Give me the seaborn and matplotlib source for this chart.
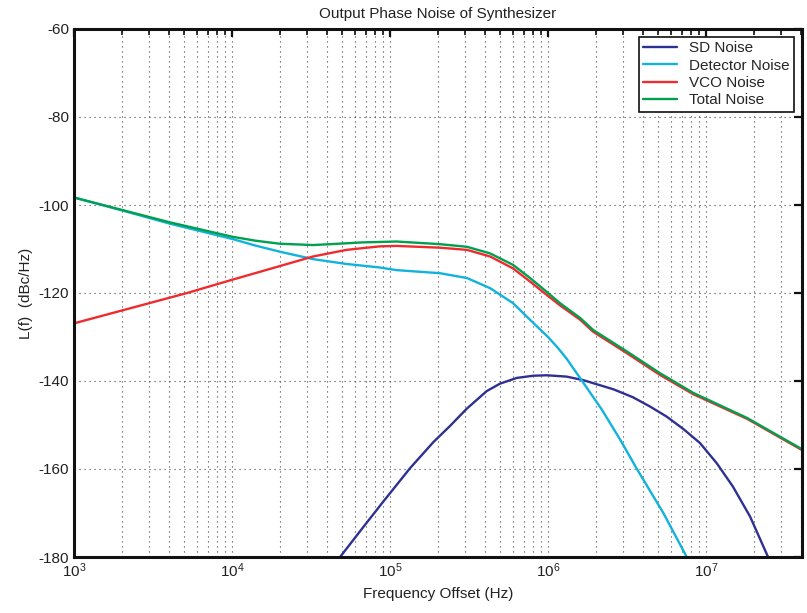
import numpy as np
import pandas as pd
import matplotlib
matplotlib.use("Agg")
import matplotlib.pyplot as plt
import seaborn as sns
from matplotlib.ticker import LogLocator, FixedLocator

# -----------------------------
# DATA
# -----------------------------
sd_freq = [4.83e4, 5.58e4, 7.12e4, 9.07e4, 1.34e5, 1.88e5, 2.4e5, 3.06e5,
           4.09e5, 4.97e5, 6.34e5, 8.07e5, 9.82e5, 1.31e6, 1.67e6, 2.6e6,
           3.45e6, 4.42e6, 5.64e6, 7.18e6, 9.16e6, 1.17e7, 1.48e7, 1.9e7,
           2.47e7]
sd_noise = [-180.0, -177.1, -172.2, -167.4, -159.8, -153.9, -150.2, -146.3,
            -142.3, -140.6, -139.3, -138.8, -138.7, -139.0, -139.8, -141.9,
            -143.7, -145.8, -148.1, -150.9, -154.1, -158.7, -164.0, -170.8,
            -180.0]

det_freq = [1e3, 2e3, 4e3, 1e4, 1.4e4, 2e4, 3.26e4, 5.3e4, 8.6e4, 1.1e5,
            2.07e5, 3.07e5, 4.3e5, 6.0e5, 7.7e5, 1.0e6, 1.15e6, 1.31e6,
            1.63e6, 2.2e6, 2.87e6, 3.64e6, 5.37e6, 7.55e6]
det_noise = [-98.3, -101.2, -104.2, -107.7, -109.2, -110.6, -112.3, -113.4,
             -114.2, -114.8, -115.5, -116.6, -118.9, -122.3, -126.1, -130.0,
             -132.4, -134.9, -139.8, -146.6, -153.4, -159.9, -170.0, -180.0]

vco_freq = [1e3, 5.2e3, 1e4, 1.4e4, 2e4, 3.26e4, 5.3e4, 8.6e4, 1.1e5, 2.07e5,
            3.07e5, 4.3e5, 6.0e5, 7.7e5, 9.86e5, 1.19e6, 1.6e6, 1.93e6,
            3.16e6, 5.1e6, 8.3e6, 1.82e7, 4.05e7]
vco_noise = [-126.9, -120.0, -117.0, -115.5, -113.9, -111.7, -110.2, -109.4,
             -109.3, -109.7, -110.2, -111.7, -114.4, -117.4, -120.5, -122.8,
             -126.1, -128.8, -133.7, -138.6, -143.0, -148.6, -155.7]

tot_freq = [1e3, 2e3, 4e3, 1e4, 1.4e4, 2e4, 3.26e4, 4.2e4, 6.7e4, 1.1e5,
            2.07e5, 3.07e5, 4.3e5, 6.0e5, 7.7e5, 9.86e5, 1.19e6, 1.6e6,
            1.93e6, 3.16e6, 5.1e6, 8.3e6, 1.82e7, 4.05e7]
tot_noise = [-98.3, -101.1, -103.9, -107.2, -108.1, -108.8, -109.1, -108.9,
             -108.5, -108.3, -108.9, -109.5, -111.0, -113.6, -116.6, -119.8,
             -122.3, -125.7, -128.4, -133.3, -138.2, -142.7, -148.4, -155.5]

series_names = ["SD Noise", "Detector Noise", "VCO Noise", "Total Noise"]
series_colors = ["#2e3192", "#12b2dc", "#ee2b2e", "#00a04e"]

frames = []
for name, f, v in zip(series_names,
                      [sd_freq, det_freq, vco_freq, tot_freq],
                      [sd_noise, det_noise, vco_noise, tot_noise]):
    frames.append(pd.DataFrame({"freq": f, "noise": v, "series": name}))
df = pd.concat(frames, ignore_index=True)

# -----------------------------
# PLOT
# -----------------------------
sns.set_style("white")
plt.rcParams["font.family"] = ["Liberation Sans", "DejaVu Sans"]
plt.rcParams["axes.unicode_minus"] = False

fig = plt.figure(figsize=(8.07, 6.13), dpi=100)
ax = fig.add_axes([74 / 807, 1 - 557 / 613, 728 / 807, 528 / 613])

sns.lineplot(data=df, x="freq", y="noise", hue="series", hue_order=series_names,
             palette=series_colors, linewidth=1.7, sort=False, ax=ax)

ax.set_xscale("log")
ax.set_xlim(1e3, 4.05e7)
ax.set_ylim(-180, -60)
ax.yaxis.set_major_locator(FixedLocator(np.arange(-180, -59, 20)))
ax.xaxis.set_major_locator(LogLocator(base=10, numticks=20))
ax.xaxis.set_minor_locator(LogLocator(base=10, subs=np.arange(2, 10), numticks=100))

ax.grid(True, which="major", axis="both", color="#444444", linestyle=(0, (1, 3.5)), linewidth=0.8)
ax.grid(True, which="minor", axis="x", color="#444444", linestyle=(0, (1, 3.5)), linewidth=0.8)

for sp in ax.spines.values():
    sp.set_visible(True)
    sp.set_color("#111111")
    sp.set_linewidth(2.2)

ax.tick_params(which="both", direction="in", top=True, right=True,
               color="#111111", labelsize=11, labelcolor="#222222")
ax.tick_params(which="major", length=6, width=1.6)
ax.tick_params(which="minor", length=4, width=1.2)

ax.set_title("Output Phase Noise of Synthesizer", fontsize=11, color="#222222", pad=8)
ax.set_xlabel("Frequency Offset (Hz)", fontsize=11, color="#222222", labelpad=5)
ax.set_ylabel("L(f)  (dBc/Hz)", fontsize=11, color="#222222", labelpad=4)

leg = ax.legend(loc="upper right", fontsize=11, frameon=True, fancybox=False,
                framealpha=1, edgecolor="#111111", borderpad=0.3,
                handlelength=2.2, labelspacing=0.22, borderaxespad=0.5)
leg.get_frame().set_linewidth(1.2)

plt.savefig("out.png", dpi=100)
plt.close()
